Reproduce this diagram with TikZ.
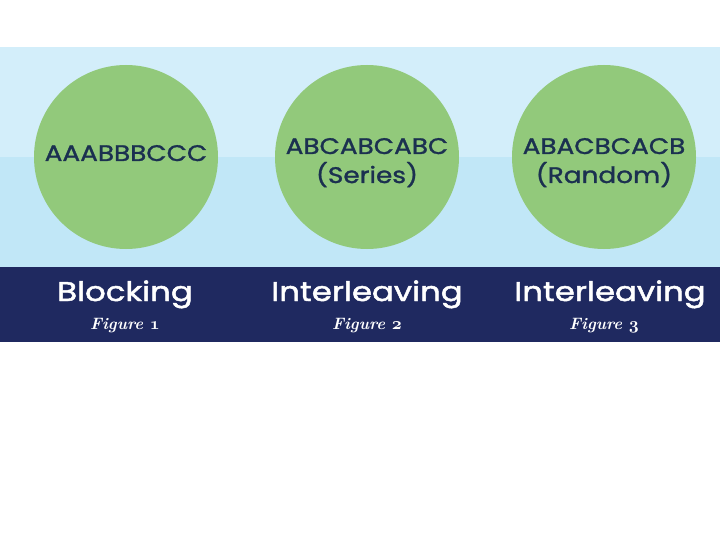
\documentclass[tikz,border=0pt]{standalone}
\usepackage{fontspec}
\newfontfamily\geo{Poppins}[FakeStretch=1.17,FakeBold=1.3]
\newfontfamily\geobold{Poppins}[FakeStretch=1.2,FakeBold=1.8]
\usetikzlibrary{calc}
\definecolor{skytop}{HTML}{D3EEFA}
\definecolor{skylow}{HTML}{C1E7F7}
\definecolor{leaf}{HTML}{92C97B}
\definecolor{navy}{HTML}{1F2960}
\definecolor{ink}{HTML}{1B3050}
\newcommand{\fignum}[1]{{\usefont{OML}{cmm}{b}{it}#1}}
\tikzset{
  ball/.style={circle,fill=leaf,minimum size=184pt},
  seq/.style={anchor=base,text=ink,font=\geo\fontsize{22.5}{22.5}\selectfont},
  head/.style={anchor=base,text=white,font=\geobold\fontsize{27}{27}\selectfont},
  fig/.style={anchor=base,text=white,font=\bfseries\itshape\fontsize{16.5}{16.5}\selectfont}
}

\begin{document}
\begin{tikzpicture}[x=1pt,y=-1pt,inner sep=0pt]
\useasboundingbox (0,0) rectangle (720,540);
\fill[white] (0,0) rectangle (720,540);
\fill[skytop] (0,47) rectangle (720,157);
\fill[skylow] (0,157) rectangle (720,267);
\fill[navy] (0,267) rectangle (720,342);

\node[ball] (b1) at (126,157) {};
\node[ball] (b2) at (367,157) {};
\node[ball] (b3) at (604,157) {};

\node[seq] (s1) at ($(b1) + (0,4)$) {AAABBBCCC};
\node[seq] (s2) at ($(b2) + (0,-3)$) {ABCABCABC};
\node[seq] (r2) at ($(s2.base) + (0,29)$) {(Series)};
\node[seq] (s3) at ($(b3) + (0,-3)$) {ABACBCACB};
\node[seq] (r3) at ($(s3.base) + (0,29)$) {(Random)};

\node[head] (h1) at (125,301) {Blocking};
\node[head] (h2) at (367,301) {Interleaving};
\node[head] (h3) at (610,301) {Interleaving};
\node[fig] (f1) at ($(h1.base) + (0,28)$) {Figure \fignum{1}};
\node[fig] (f2) at ($(h2.base) + (0,28)$) {Figure \fignum{2}};
\node[fig] (f3) at ($(h3.base) + (-6,28)$) {Figure \fignum{3}};
\end{tikzpicture}
\end{document}
